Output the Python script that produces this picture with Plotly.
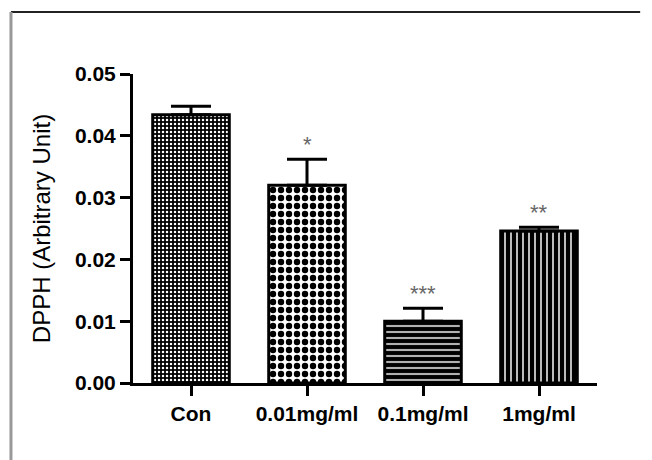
import plotly.graph_objects as go

categories = ["Con", "0.01mg/ml", "0.1mg/ml", "1mg/ml"]
values = [0.0434, 0.0320, 0.0100, 0.0246]
errors = [0.0014, 0.0042, 0.0021, 0.0006]
stars = ["", "*", "***", "**"]
y_ticks = [0.00, 0.01, 0.02, 0.03, 0.04, 0.05]

patterns = [
    dict(shape=".", size=4, solidity=0.3, fgcolor="white", bgcolor="black", fgopacity=1),
    dict(shape=".", size=8, solidity=0.5, fgcolor="black", bgcolor="white", fgopacity=1),
    dict(shape="-", size=6, solidity=0.65, fgcolor="black", bgcolor="#b0b0b0", fgopacity=1),
    dict(shape="|", size=6, solidity=0.7, fgcolor="black", bgcolor="#d0d0d0", fgopacity=1),
]

fig = go.Figure()
for i, c in enumerate(categories):
    fig.add_trace(go.Bar(
        x=[c], y=[values[i]], width=0.66,
        marker=dict(color="white", pattern=patterns[i],
                    line=dict(color="black", width=3)),
        error_y=dict(type="data", array=[errors[i]], arrayminus=[0],
                     symmetric=False, color="black", thickness=3, width=20),
        showlegend=False,
    ))

for i, c in enumerate(categories):
    if stars[i]:
        fig.add_annotation(x=c, y=values[i] + errors[i], text=stars[i],
                           showarrow=False, yanchor="bottom", yshift=0,
                           font=dict(family="Liberation Sans", size=22, color="#666666"))

# outer frame lines
fig.add_shape(type="line", xref="paper", yref="paper", x0=-0.263, x1=1.093, y0=1.2006, y1=1.2006,
              line=dict(color="#222222", width=2))
fig.add_shape(type="line", xref="paper", yref="paper", x0=-0.263, x1=-0.263, y0=1.2006, y1=-0.3,
              line=dict(color="#999999", width=3))

fig.update_layout(
    width=644, height=452,
    margin=dict(l=125, r=55, t=66, b=77),
    plot_bgcolor="white", paper_bgcolor="white",
    font=dict(family="Liberation Sans", color="black"),
)
fig.update_xaxes(
    range=[-0.5, 3.5], showline=True, linecolor="black", linewidth=3,
    ticks="outside", ticklen=10, tickwidth=3, tickcolor="black",
    tickfont=dict(family="Liberation Sans", size=21, color="black"),
    showgrid=False, zeroline=False,
    tickvals=categories, ticktext=["<b>%s</b>" % c for c in categories],
)
fig.update_yaxes(
    range=[0, 0.05], showline=True, linecolor="black", linewidth=3,
    ticks="outside", ticklen=10, tickwidth=3, tickcolor="black",
    tickvals=y_ticks, ticktext=["<b>%.2f</b>" % v for v in y_ticks],
    tickfont=dict(family="Liberation Sans", size=21, color="black"),
    showgrid=False, zeroline=False,
    title=dict(text="DPPH (Arbitrary Unit)", font=dict(family="Liberation Sans", size=24, color="black"),
               standoff=18),
)

fig.write_html("out.html")
